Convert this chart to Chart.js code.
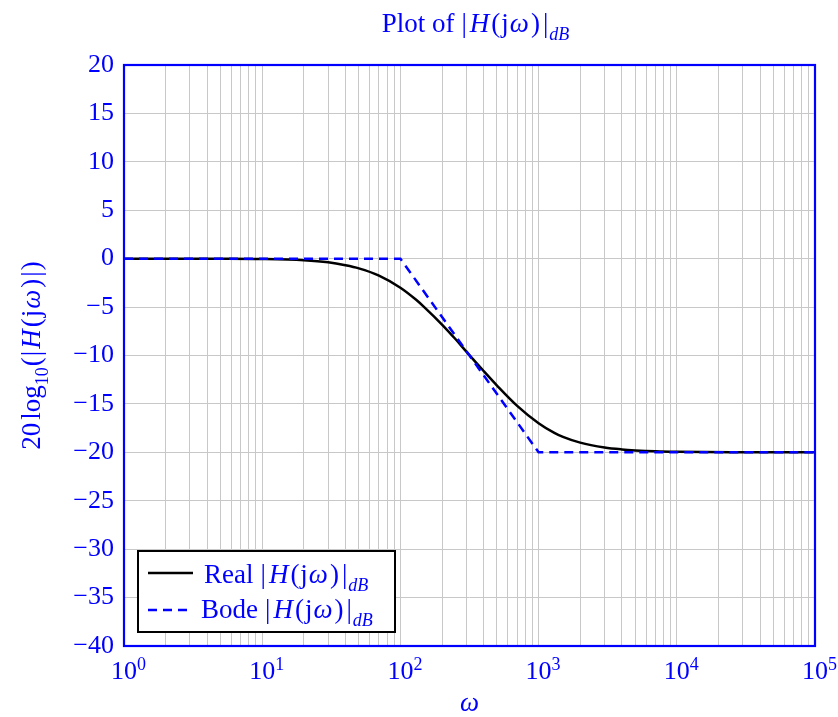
<!DOCTYPE html>
<html>
<head>
<meta charset="utf-8">
<script src="https://cdn.jsdelivr.net/npm/chart.js@4.4.0/dist/chart.umd.min.js"></script>
<style>
  html, body { margin: 0; padding: 0; background: #fff; }
  #wrap { width: 838px; height: 717px; position: relative; }
</style>
</head>
<body>
<div id="wrap"><canvas id="c" width="838" height="717"></canvas></div>
<script>
// ---- data ----
const omegaReal = [1, 5, 10, 20, 30, 40, 50, 70, 100, 130, 150, 200, 250, 300, 400, 500, 700, 1000, 1300, 1500, 2000, 3000, 4000, 5000, 7000, 10000, 30000, 100000];
const magReal   = [0, -0.01, -0.04, -0.17, -0.38, -0.68, -1.0, -1.75, -3.0, -4.25, -5.05, -6.8, -8.3, -9.6, -11.6, -13.1, -15.2, -17.0, -18.0, -18.4, -19.0, -19.5, -19.7, -19.8, -19.9, -19.95, -19.99, -20.0];
const omegaBode = [1, 100, 1000, 100000];
const magBode   = [0, 0, -20, -20];
const xTickValues = [1, 10, 100, 1000, 10000, 100000];
const xTickExponents = ['0', '1', '2', '3', '4', '5'];
const yMin = -40, yMax = 20, yStep = 5;
const titleText = 'Plot of';
const realLabel = 'Real';
const bodeLabel = 'Bode';

// ---- styles ----
const BLUE = '#0000ff';
const FONT = '"Liberation Serif", "DejaVu Serif", serif';
const FS = 26;   // tick labels
const TS = 27;   // rich text (title, legend, axis titles)

function hSegs(prefix) {
  return [
    {t: prefix, gr: 7}, {t: '|', gr: 3}, {t: 'H', i: true, gr: 2}, {t: '(', gr: 1}, {t: 'j', gr: 1},
    {t: 'ω', i: true, gr: 2}, {t: ')', gr: 3}, {t: '|', gr: 1}, {t: 'dB', i: true, sub: true}
  ];
}

function segFont(s, size) {
  const sz = s.sub || s.sup ? Math.round(size * 0.68) : size;
  return (s.i ? 'italic ' : '') + sz + 'px ' + FONT;
}

function segWidth(ctx, s, size) {
  ctx.font = segFont(s, size);
  return (s.gl || 0) + ctx.measureText(s.t).width + (s.gr || 0);
}

function measureRich(ctx, segs, size) {
  let w = 0;
  for (const s of segs) w += segWidth(ctx, s, size);
  return w;
}

function drawRich(ctx, segs, x, y, size, align, color) {
  const w = measureRich(ctx, segs, size);
  let cx = align === 'center' ? x - w / 2 : (align === 'right' ? x - w : x);
  ctx.fillStyle = color;
  ctx.textBaseline = 'alphabetic';
  ctx.textAlign = 'left';
  for (const s of segs) {
    ctx.font = segFont(s, size);
    let dy = 0;
    if (s.sub) dy = size * 0.3;
    if (s.sup) dy = -size * 0.36;
    ctx.fillText(s.t, cx + (s.gl || 0), y + dy);
    cx += segWidth(ctx, s, size);
  }
}

const decorPlugin = {
  id: 'decor',
  afterDatasetsDraw(chart) {
    const ctx = chart.ctx;
    const a = chart.chartArea;
    const xs = chart.scales.x;
    ctx.save();
    // frame
    ctx.strokeStyle = BLUE;
    ctx.lineWidth = 2.2;
    ctx.strokeRect(a.left, a.top, a.right - a.left, a.bottom - a.top);

    // x tick labels 10^n
    xTickValues.forEach((v, k) => {
      const px = xs.getPixelForValue(v);
      const segs = [{t: '10'}, {t: xTickExponents[k], sup: true}];
      ctx.font = FS + 'px ' + FONT;
      const w10 = ctx.measureText('10').width;
      drawRich(ctx, segs, px - w10 / 2, a.bottom + 33, FS, 'left', BLUE);
    });

    // x title
    drawRich(ctx, [{t: 'ω', i: true}], (a.left + a.right) / 2, 711, TS, 'center', BLUE);

    // title
    drawRich(ctx, hSegs(titleText), (a.left + a.right) / 2 + 6, 32, TS, 'center', BLUE);

    // y title (rotated)
    ctx.save();
    ctx.translate(40, (a.top + a.bottom) / 2);
    ctx.rotate(-Math.PI / 2);
    drawRich(ctx, [
      {t: '20', gr: 3}, {t: 'log'}, {t: '10', sub: true, gr: 1}, {t: '(', gr: 1}, {t: '|', gr: 2},
      {t: 'H', i: true, gr: 2}, {t: '(', gr: 1}, {t: 'j', gr: 1}, {t: 'ω', i: true, gr: 2}, {t: ')', gr: 2}, {t: '|', gr: 1}, {t: ')'}
    ], 0, 0, TS, 'center', BLUE);
    ctx.restore();

    // legend
    const lx = a.left + 14, ly = 551, lw = 257, lh = 81;
    ctx.fillStyle = '#fff';
    ctx.fillRect(lx, ly, lw, lh);
    ctx.strokeStyle = '#000';
    ctx.lineWidth = 2;
    ctx.strokeRect(lx, ly, lw, lh);
    const rows = [
      {y: ly + 22, base: ly + 32, color: '#000', dash: [], label: realLabel, tx: lx + 66},
      {y: ly + 59, base: ly + 67, color: BLUE, dash: [9, 6], label: bodeLabel, tx: lx + 63}
    ];
    rows.forEach(r => {
      ctx.beginPath();
      ctx.setLineDash(r.dash);
      ctx.strokeStyle = r.color;
      ctx.lineWidth = 2.5;
      ctx.moveTo(lx + 10, r.y);
      ctx.lineTo(lx + 55, r.y);
      ctx.stroke();
      ctx.setLineDash([]);
      drawRich(ctx, hSegs(r.label), r.tx, r.base, TS, 'left', BLUE);
    });
    ctx.restore();
  }
};

const minorTicks = [];
for (let e = 0; e < 5; e++) {
  for (let m = 1; m < 10; m++) minorTicks.push(m * Math.pow(10, e));
}
minorTicks.push(100000);

new Chart(document.getElementById('c'), {
  type: 'line',
  data: {
    datasets: [
      {
        label: 'Real',
        data: omegaReal.map((w, k) => ({x: w, y: magReal[k]})),
        borderColor: '#000',
        borderWidth: 2.5,
        pointRadius: 0,
        cubicInterpolationMode: 'monotone',
        order: 1
      },
      {
        label: 'Bode',
        data: omegaBode.map((w, k) => ({x: w, y: magBode[k]})),
        borderColor: BLUE,
        borderWidth: 2.5,
        borderDash: [9, 6],
        pointRadius: 0,
        tension: 0,
        order: 0
      }
    ]
  },
  options: {
    responsive: false,
    animation: false,
    layout: { padding: { top: 65, right: 23, bottom: 0, left: 0 } },
    plugins: { legend: { display: false }, title: { display: false }, tooltip: { enabled: false } },
    scales: {
      x: {
        type: 'logarithmic',
        min: 1, max: 100000,
        afterBuildTicks: (s) => { s.ticks = minorTicks.map(v => ({value: v})); },
        afterFit: (s) => { s.height = 71; },
        ticks: { display: false, autoSkip: false },
        grid: { color: '#c8c8c8', lineWidth: 1, drawTicks: false },
        border: { display: false }
      },
      y: {
        min: yMin, max: yMax,
        afterFit: (s) => { s.width = 124; },
        ticks: {
          stepSize: yStep,
          color: BLUE,
          font: { family: FONT, size: FS },
          padding: 10,
          callback: (v) => (v < 0 ? '\u2212' + Math.abs(v) : String(v))
        },
        grid: { color: '#c8c8c8', lineWidth: 1, drawTicks: false },
        border: { display: false }
      }
    }
  },
  plugins: [decorPlugin]
});
</script>
</body>
</html>
